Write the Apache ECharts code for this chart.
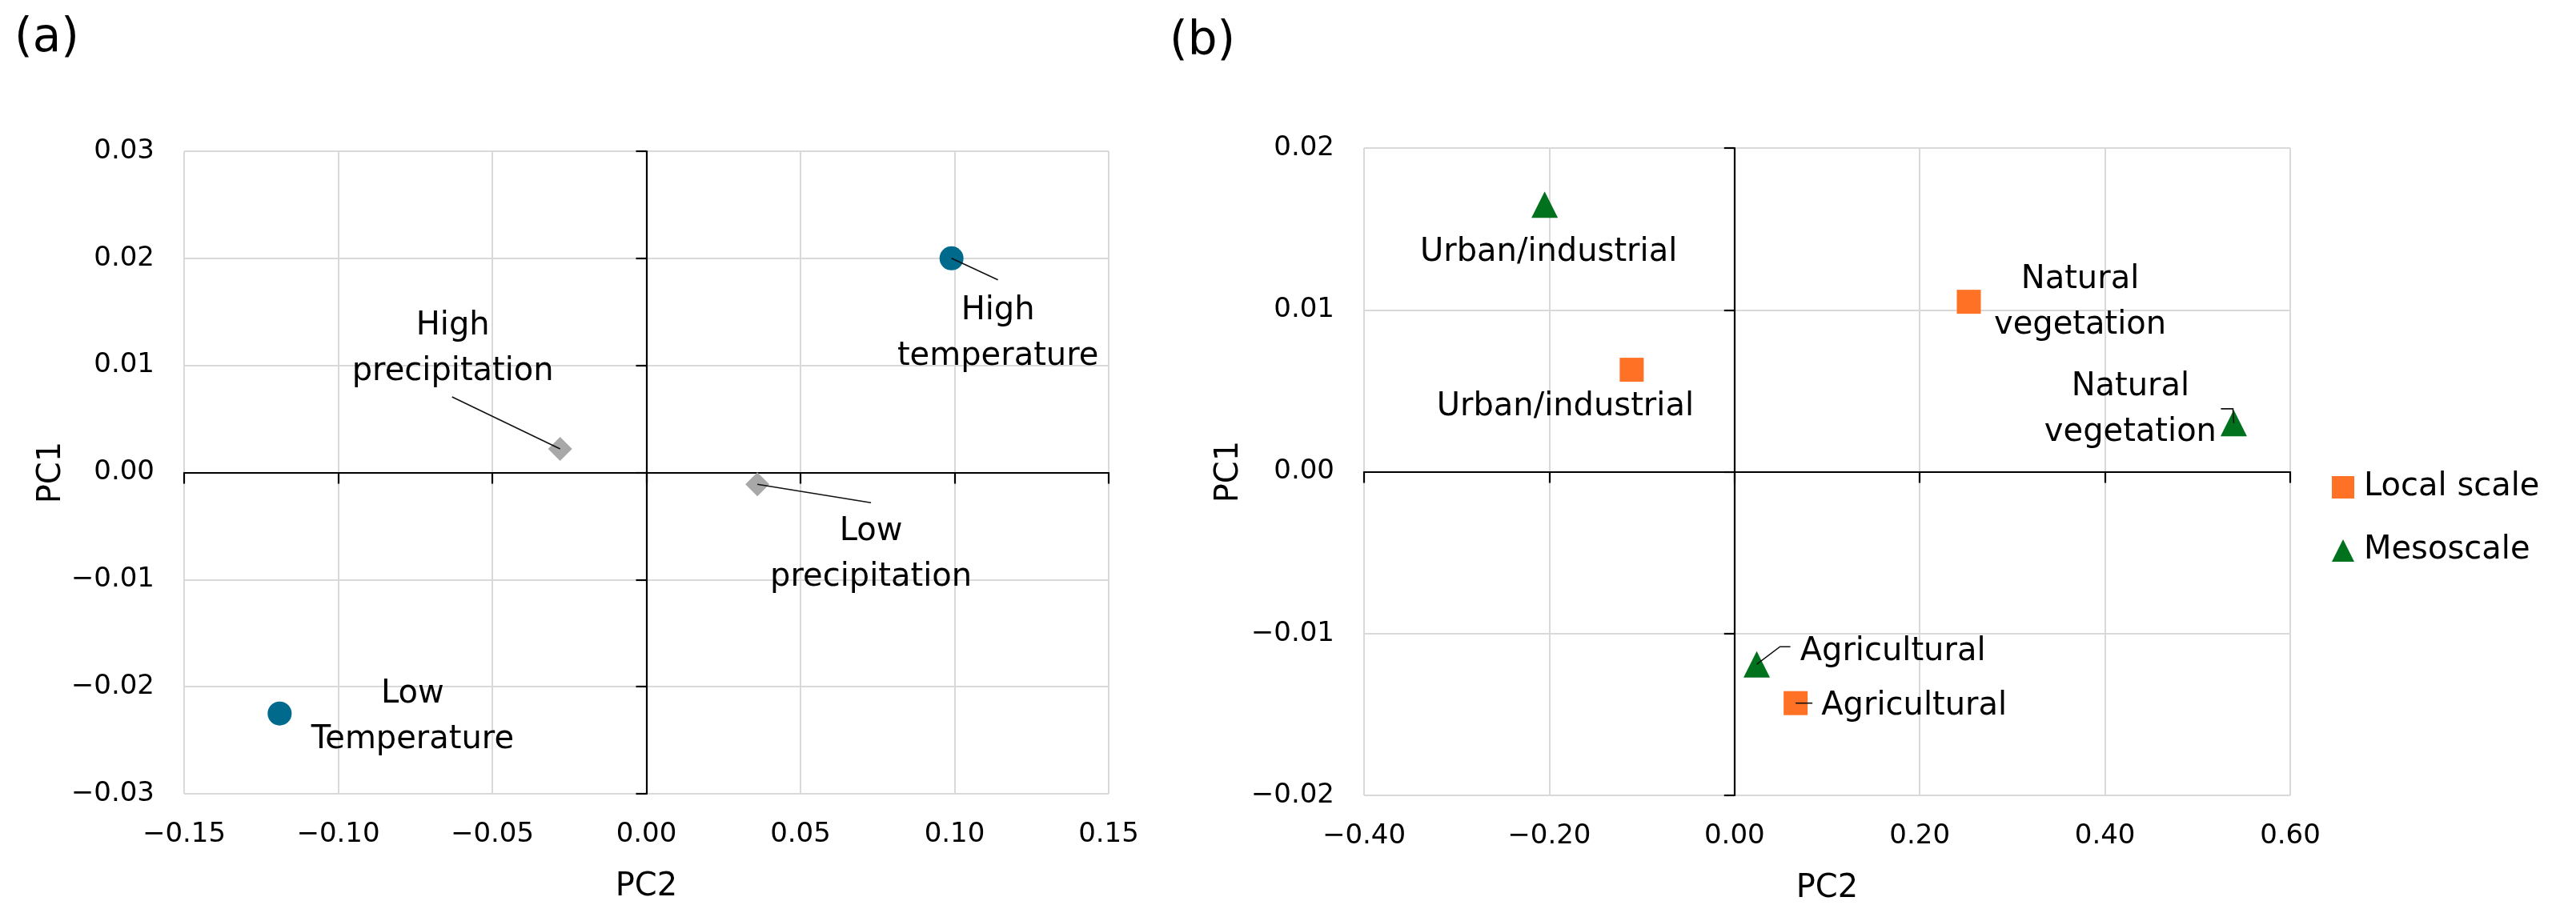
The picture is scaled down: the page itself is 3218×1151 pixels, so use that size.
<!DOCTYPE html>
<html><head><meta charset="utf-8">
<script src="https://cdn.jsdelivr.net/npm/echarts@6/dist/echarts.min.js"></script>
<style>html,body{margin:0;padding:0;background:#fff}#c{width:3218px;height:1151px}</style>
</head><body><div id="c"></div>
<script>
// ---------- Panel (a) data ----------
const tempNames = ['High\ntemperature', 'Low\nTemperature'];
const tempPC2 = [0.099, -0.119];
const tempPC1 = [0.020, -0.0225];
const precipNames = ['High\nprecipitation', 'Low\nprecipitation'];
const precipPC2 = [-0.028, 0.036];
const precipPC1 = [0.0022, -0.0011];
// ---------- Panel (b) data ----------
const seriesNamesB = ['Local scale', 'Mesoscale'];
const localNames = ['Urban/industrial', 'Natural\nvegetation', 'Agricultural'];
const localPC2 = [-0.111, 0.253, 0.066];
const localPC1 = [0.0063, 0.0105, -0.0143];
const mesoNames = ['Urban/industrial', 'Natural\nvegetation', 'Agricultural'];
const mesoPC2 = [-0.205, 0.539, 0.024];
const mesoPC1 = [0.0165, 0.003, -0.0119];
// ---------- axis ranges / titles ----------
const panelTitles = ['(a)', '(b)'];
const xTitle = 'PC2', yTitle = 'PC1';
const xRangeA = [-0.15, 0.15, 0.05], yRangeA = [-0.03, 0.03, 0.01];
const xRangeB = [-0.40, 0.60, 0.20], yRangeB = [-0.02, 0.02, 0.01];

// ---------- label placement (style only: pixel offsets from the mark) ----------
const offTemp = [[58, 94], [166, 4]];
const offPrecip = [[-134, -125], [142, 88]];
const offLocal = [[-83, 47], [139, 1], [148, 4]];
const offMeso = [[5, 60], [-129, -17], [170, -16]];
// leader-line bends (pixel offsets from the mark), null = no leader
const leadTemp = [[[58, 27]], null];
const leadPrecip = [[[-135, -65]], [[142, 23]]];
const leadLocal = [null, null, [[21, 0]]];
const leadMeso = [null, [[-1, -18], [-16, -18]], [[29, -22], [42, -22]]];

const FONT = 'DejaVu Sans';
const fmt = v => (v < -1e-9 ? '\u2212' : '') + Math.abs(v).toFixed(2);

function mkSeries(name, names, xs, ys, offs, symbol, size, color, axisIdx) {
  return {
    type: 'scatter', name: name, xAxisIndex: axisIdx, yAxisIndex: axisIdx,
    symbol: symbol, symbolSize: size,
    itemStyle: { color: color, opacity: 1 },
    data: names.map((n, i) => ({ name: n, value: [xs[i], ys[i]] })),
    label: {
      show: true, position: 'inside', formatter: '{b}', color: '#000',
      fontFamily: FONT, fontSize: 40, lineHeight: 57, align: 'center', verticalAlign: 'middle'
    },
    labelLayout: p => ({ dx: offs[p.dataIndex][0], dy: offs[p.dataIndex][1] }),
    z: 5
  };
}
function mkLeaders(xs, ys, leads, axisIdx) {
  return {
    type: 'custom', xAxisIndex: axisIdx, yAxisIndex: axisIdx, silent: true, z: 6,
    encode: { x: 0, y: 1 },
    data: xs.map((x, i) => [x, ys[i]]),
    renderItem: (params, api) => {
      const segs = leads[params.dataIndex];
      if (!segs) return null;
      const c = api.coord([api.value(0), api.value(1)]);
      const pts = [c].concat(segs.map(s => [c[0] + s[0], c[1] + s[1]]));
      return { type: 'polyline', shape: { points: pts },
               style: { stroke: '#111', lineWidth: 1.6, fill: null } };
    }
  };
}
function labelX(grid, r, gap) {
  return {
    type: 'value', gridIndex: grid, min: r[0], max: r[1], interval: r[2], position: 'bottom',
    axisLine: { show: false, onZero: false }, axisTick: { show: false },
    axisLabel: { formatter: fmt, fontFamily: FONT, fontSize: 34, color: '#000', margin: 34 },
    splitLine: { show: true, lineStyle: { color: '#D9D9D9', width: 2 } },
    name: xTitle, nameLocation: 'middle', nameGap: gap,
    nameTextStyle: { fontFamily: FONT, fontSize: 40, color: '#000' }
  };
}
function zeroX(grid, r) {
  return {
    type: 'value', gridIndex: grid, min: r[0], max: r[1], interval: r[2], position: 'bottom',
    axisLine: { show: true, onZero: true, lineStyle: { color: '#000', width: 2.2 } },
    axisTick: { show: true, inside: false, length: 14, lineStyle: { color: '#000', width: 2.2 } },
    axisLabel: { show: false }, splitLine: { show: false }
  };
}
function labelY(grid, r, gap) {
  return {
    type: 'value', gridIndex: grid, min: r[0], max: r[1], interval: r[2], position: 'left',
    axisLine: { show: false, onZero: false }, axisTick: { show: false },
    axisLabel: { formatter: fmt, fontFamily: FONT, fontSize: 34, color: '#000', margin: 37 },
    splitLine: { show: true, lineStyle: { color: '#D9D9D9', width: 2 } },
    name: yTitle, nameLocation: 'middle', nameGap: gap,
    nameTextStyle: { fontFamily: FONT, fontSize: 40, color: '#000' }
  };
}
function zeroY(grid, r) {
  return {
    type: 'value', gridIndex: grid, min: r[0], max: r[1], interval: r[2], position: 'left',
    axisLine: { show: true, onZero: true, lineStyle: { color: '#000', width: 2.2 } },
    axisTick: { show: true, inside: false, length: 13, lineStyle: { color: '#000', width: 2.2 } },
    axisLabel: { show: false }, splitLine: { show: false }
  };
}

const chart = echarts.init(document.getElementById('c'), null, { renderer: 'canvas' });
chart.setOption({
  animation: false,
  backgroundColor: '#fff',
  title: [
    { text: panelTitles[0], left: 18, top: 20, padding: 0,
      textStyle: { fontFamily: FONT, fontSize: 58, fontWeight: 'normal', color: '#000' } },
    { text: panelTitles[1], left: 1461, top: 24, padding: 0,
      textStyle: { fontFamily: FONT, fontSize: 58, fontWeight: 'normal', color: '#000' } }
  ],
  grid: [
    { left: 230, top: 189, width: 1155, height: 803 },
    { left: 1704, top: 185, width: 1157, height: 809 }
  ],
  xAxis: [labelX(0, xRangeA, 97), zeroX(0, xRangeA), labelX(1, xRangeB, 97), zeroX(1, xRangeB)],
  yAxis: [labelY(0, yRangeA, 145), zeroY(0, yRangeA), labelY(1, yRangeB, 148), zeroY(1, yRangeB)],
  legend: {
    orient: 'vertical', left: 2913, top: 589, padding: 0,
    itemWidth: 28, itemHeight: 28, itemGap: 39,
    data: [{ name: seriesNamesB[0], icon: 'rect' }, { name: seriesNamesB[1], icon: 'triangle' }],
    textStyle: { fontFamily: FONT, fontSize: 40, lineHeight: 40, color: '#000', padding: [0, 0, 0, 7] }
  },
  series: [
    mkSeries('Temperature', tempNames, tempPC2, tempPC1, offTemp, 'circle', 30, '#006A8C', 0),
    mkSeries('Precipitation', precipNames, precipPC2, precipPC1, offPrecip, 'diamond', 30, '#A8A8A8', 0),
    mkSeries(seriesNamesB[0], localNames, localPC2, localPC1, offLocal, 'rect', 30, '#FF7226', 2),
    mkSeries(seriesNamesB[1], mesoNames, mesoPC2, mesoPC1, offMeso, 'triangle', 33, '#00721E', 2),
    mkLeaders(tempPC2, tempPC1, leadTemp, 0),
    mkLeaders(precipPC2, precipPC1, leadPrecip, 0),
    mkLeaders(localPC2, localPC1, leadLocal, 2),
    mkLeaders(mesoPC2, mesoPC1, leadMeso, 2)
  ]
});
</script></body></html>
